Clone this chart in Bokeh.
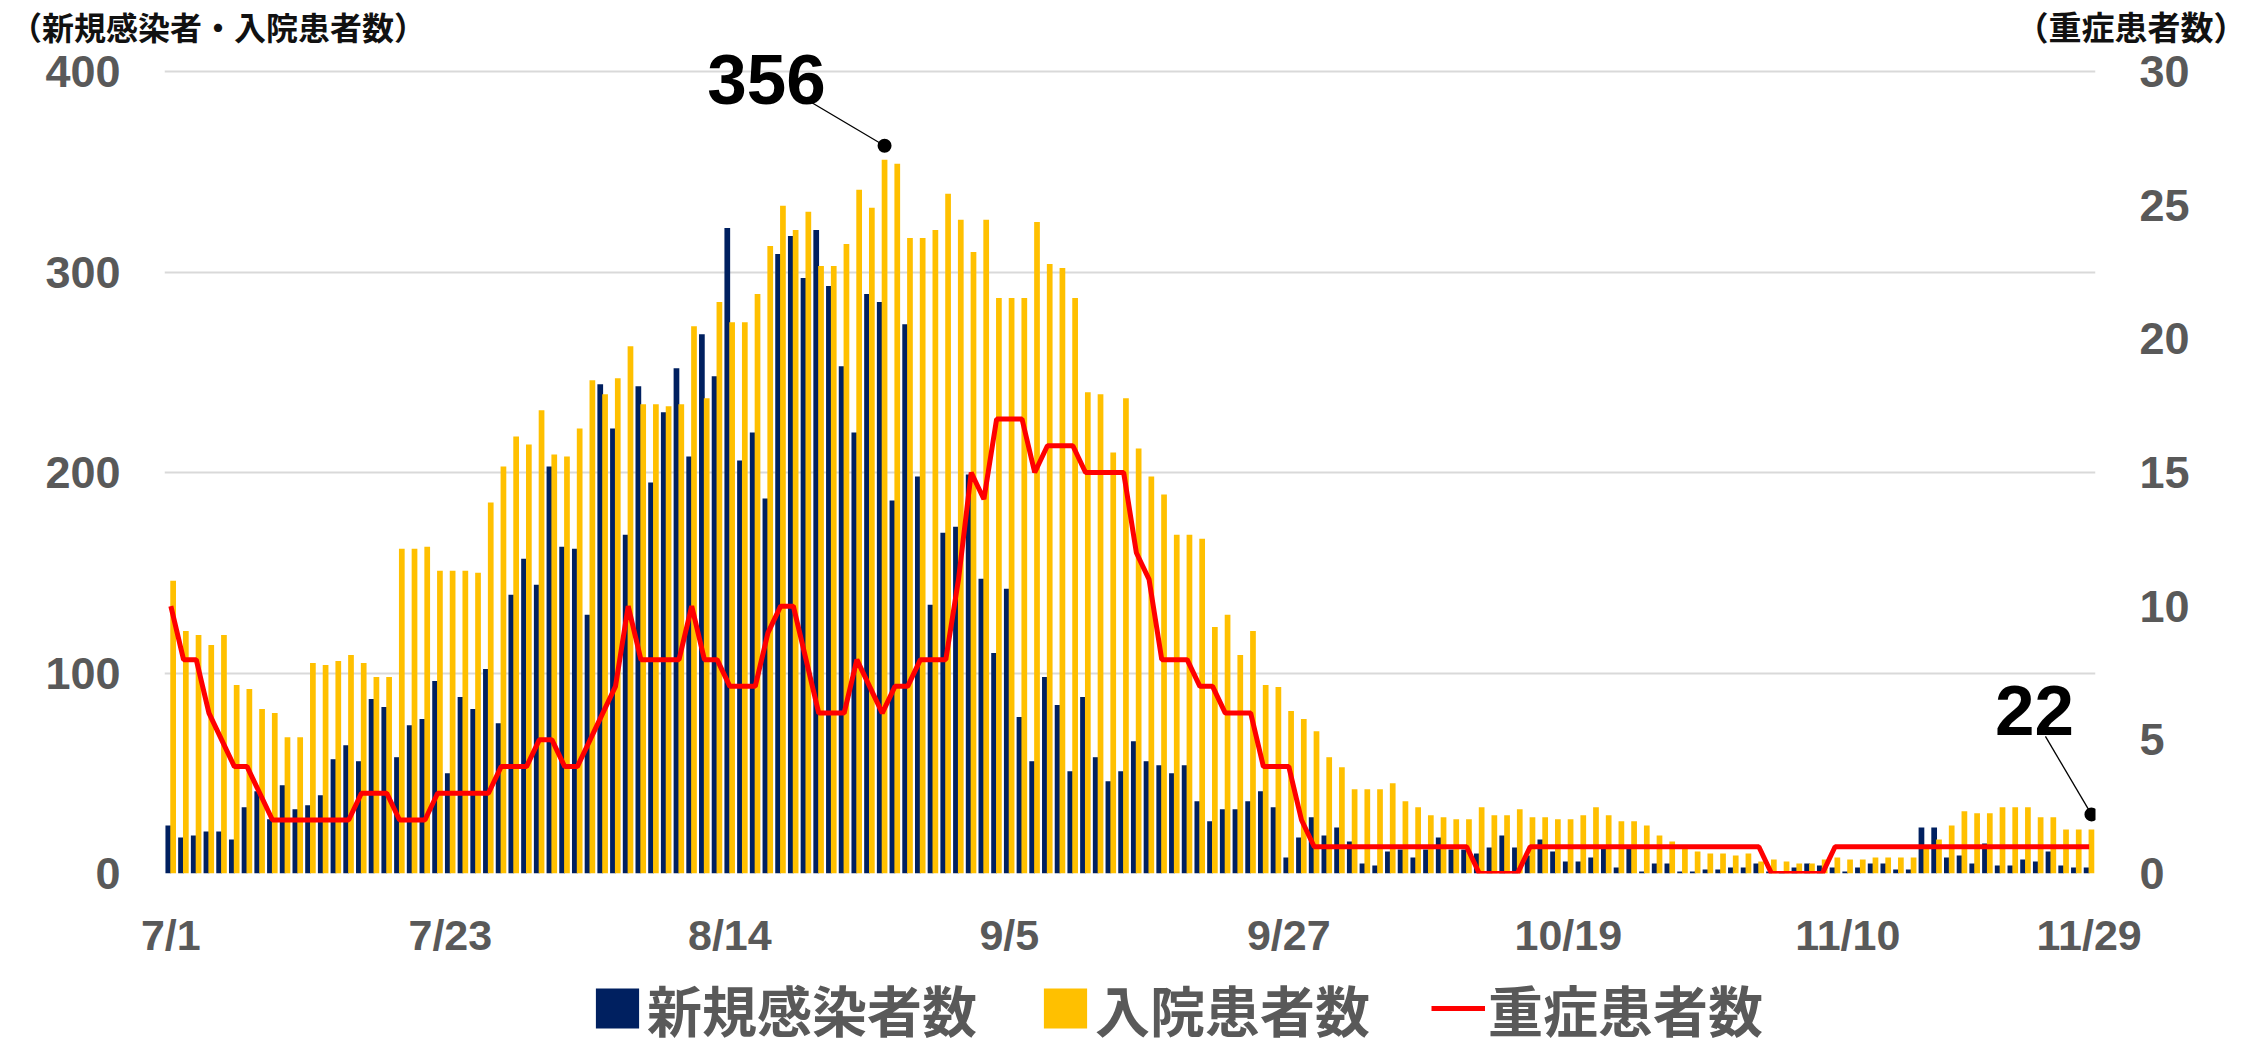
import numpy as np
import pandas as pd
from bokeh.plotting import figure
from bokeh.models import Range1d, LinearAxis, FixedTicker, Label, Legend, LegendItem, Div, Spacer
from bokeh.layouts import column, row
from bokeh.embed import file_html
from bokeh.resources import INLINE

# ---------------- data ----------------
dates = [f"{d.month}/{d.day}" for d in pd.date_range("2021-07-01", "2021-11-29")]

new_cases = [24, 18, 19, 21, 21, 17, 33, 41, 27, 44, 32, 34, 39, 57, 64, 56, 87, 83, 58, 74,
             77, 96, 50, 88, 82, 102, 75, 139, 157, 144, 203, 163, 162, 129, 244, 222, 169, 243, 195, 230,
             252, 208, 269, 248, 322, 206, 220, 187, 309, 318, 297, 321, 293, 253, 220, 289, 285, 186, 274, 198,
             134, 170, 173, 199, 147, 110, 142, 78, 56, 98, 84, 51, 88, 58, 46, 51, 66, 56, 54, 50,
             54, 36, 26, 32, 32, 36, 41, 33, 8, 18, 28, 19, 23, 16, 5, 4, 11, 12, 8, 12,
             18, 12, 12, 10, 13, 19, 13, 9, 17, 11, 6, 6, 8, 13, 3, 13, 1, 5, 5, 1,
             1, 2, 2, 3, 3, 5, 1, 1, 3, 5, 4, 3, 1, 3, 5, 5, 2, 2, 23, 23,
             8, 9, 5, 15, 4, 4, 7, 6, 11, 4, 3, 3]

hospitalized = [146, 121, 119, 114, 119, 94, 92, 82, 80, 68, 68, 105, 104, 106, 109, 105, 98, 98, 162, 162,
                163, 151, 151, 151, 150, 185, 203, 218, 214, 231, 209, 208, 222, 246, 239, 247, 263, 234, 234, 233,
                234, 273, 237, 285, 275, 275, 289, 313, 333, 321, 330, 303, 303, 314, 341, 332, 356, 354, 317, 317,
                321, 339, 326, 310, 326, 287, 287, 287, 325, 304, 302, 287, 240, 239, 210, 237, 212, 198, 189, 169,
                169, 167, 123, 129, 109, 121, 94, 93, 81, 77, 71, 58, 53, 42, 42, 42, 45, 36, 33, 29,
                28, 27, 27, 33, 29, 29, 32, 28, 28, 27, 27, 29, 33, 29, 26, 26, 24, 19, 16, 13,
                11, 10, 10, 9, 10, 6, 7, 6, 5, 5, 7, 8, 7, 7, 8, 8, 8, 8, 13, 17,
                24, 31, 30, 30, 33, 33, 33, 28, 28, 22, 22, 22]

severe = [10, 8, 8, 6, 5, 4, 4, 3, 2, 2, 2, 2, 2, 2, 2, 3, 3, 3, 2, 2,
          2, 3, 3, 3, 3, 3, 4, 4, 4, 5, 5, 4, 4, 5, 6, 7, 10, 8, 8, 8,
          8, 10, 8, 8, 7, 7, 7, 9, 10, 10, 8, 6, 6, 6, 8, 7, 6, 7, 7, 8,
          8, 8, 11, 15, 14, 17, 17, 17, 15, 16, 16, 16, 15, 15, 15, 15, 12, 11, 8, 8,
          8, 7, 7, 6, 6, 6, 4, 4, 4, 2, 1, 1, 1, 1, 1, 1, 1, 1, 1, 1,
          1, 1, 1, 0, 0, 0, 0, 1, 1, 1, 1, 1, 1, 1, 1, 1, 1, 1, 1, 1,
          1, 1, 1, 1, 1, 1, 0, 0, 0, 0, 0, 1, 1, 1, 1, 1, 1, 1, 1, 1,
          1, 1, 1, 1, 1, 1, 1, 1, 1, 1, 1, 1]

tick_labels = ["7/1", "7/23", "8/14", "9/5", "9/27", "10/19", "11/10", "11/29"]
left_ticks = [0, 100, 200, 300, 400]
right_ticks = [0, 5, 10, 15, 20, 25, 30]
series_names = ["新規感染者数", "入院患者数", "重症患者数"]
left_title = "（新規感染者・入院患者数）"
right_title = "（重症患者数）"

NAVY, YELLOW, RED = "#002060", "#FFC000", "#FF0000"
FONT = "Noto Sans CJK JP"
NUM_FONT = "Liberation Sans"
GRAY = "#595959"

# ---------------- layout (page has an 8px body margin) ----------------
W = 2230
HEAD_H = 44                 # header row with the two axis titles
OVERLAP = 36                # main chart (transparent) slides up under the header
MAIN_H = 955
LEG_H = 1048 - HEAD_H - (MAIN_H - OVERLAP)
ML, MR, MT, MB = 164, 135, 0, 90
FW, FH = W - ML - MR, MAIN_H - MT - MB
n = len(dates)
ppd = FW / n                # pixels per day
ppu = 802 / 400.0           # pixels per left-axis unit
y_top = FH / ppu            # frame reaches above 400 so the callout is not clipped
sev_top = 30 * y_top / 400

p = figure(width=W, height=MAIN_H, x_range=Range1d(-0.5, n - 0.5), y_range=Range1d(0, y_top),
           output_backend="svg", toolbar_location=None, margin=(-OVERLAP, 0, 0, 0),
           min_border_left=ML, min_border_right=MR, min_border_top=MT, min_border_bottom=MB)
p.extra_y_ranges = {"sev": Range1d(0, sev_top)}
p.outline_line_color = None
p.background_fill_alpha = 0
p.border_fill_alpha = 0

x = np.arange(n)
tick_pos = [dates.index(t) for t in tick_labels]

# axes
p.xaxis.ticker = FixedTicker(ticks=tick_pos)
p.xaxis.major_label_overrides = {pos: lab for pos, lab in zip(tick_pos, tick_labels)}
p.yaxis.ticker = FixedTicker(ticks=left_ticks)
right_axis = LinearAxis(y_range_name="sev", ticker=FixedTicker(ticks=right_ticks))
p.add_layout(right_axis, "right")

for ax in p.xaxis + p.yaxis:
    ax.axis_line_color = None
    ax.major_tick_line_color = None
    ax.minor_tick_line_color = None
    ax.major_label_text_color = GRAY
    ax.major_label_text_font = NUM_FONT
    ax.major_label_text_font_style = "bold"
p.xaxis.major_label_text_font_size = "43px"
p.xaxis.major_label_standoff = 31
for ax in p.yaxis:
    ax.major_label_text_font_size = "45px"
    ax.major_label_standoff = 38

p.xgrid.visible = False
p.ygrid.ticker = FixedTicker(ticks=left_ticks)
p.ygrid.grid_line_color = "#d9d9d9"
p.ygrid.grid_line_width = 2

# bars and line
p.vbar(x=x - 0.2, top=new_cases, width=0.45, fill_color=NAVY, line_color=None)
p.vbar(x=x + 0.18, top=hospitalized, width=0.45, fill_color=YELLOW, line_color=None)
p.line(x, severe, y_range_name="sev", line_color=RED, line_width=5)

# annotations: peak and last value (offsets in screen pixels converted to data units)
def callout(idx, dxt, dyt, dxl, dyl, dot_up):
    xp = idx + 0.18
    yp = hospitalized[idx]
    ydot = yp + dot_up / ppu
    p.segment(x0=[xp + dxl / ppd], y0=[yp + dyl / ppu], x1=[xp], y1=[ydot],
              line_color="black", line_width=1.3)
    p.scatter(x=[xp], y=[ydot], size=14, fill_color="black", line_color=None)
    p.add_layout(Label(x=xp + dxt / ppd, y=yp + dyt / ppu, text=str(yp),
                       text_align="center", text_baseline="middle",
                       text_font=NUM_FONT, text_font_style="bold", text_font_size="71px",
                       text_color="black"))

pk = int(np.argmax(hospitalized))
callout(pk, -118, 80, -76, 59, 14)
callout(n - 1, -57, 119, -46, 93, 15)

# ---------------- legend strip ----------------
# the same series, hidden, only provide the legend swatches of this strip
pl = figure(width=W, height=LEG_H, x_range=Range1d(-0.5, n - 0.5), y_range=Range1d(0, 400),
            output_backend="svg", toolbar_location=None,
            x_axis_location=None, y_axis_location=None, min_border=0)
pl.extra_y_ranges = {"sev": Range1d(0, 30)}
pl.outline_line_color = None
pl.border_fill_alpha = 0
pl.background_fill_alpha = 0
pl.grid.visible = False
l_new = pl.vbar(x=x - 0.2, top=new_cases, width=0.45, fill_color=NAVY, line_color=None, visible=False)
l_hosp = pl.vbar(x=x + 0.18, top=hospitalized, width=0.45, fill_color=YELLOW, line_color=None, visible=False)
l_sev = pl.line(x, severe, y_range_name="sev", line_color=RED, line_width=5, visible=False)
legend = Legend(items=[LegendItem(label=series_names[0], renderers=[l_new]),
                       LegendItem(label=series_names[1], renderers=[l_hosp]),
                       LegendItem(label=series_names[2], renderers=[l_sev])],
                orientation="horizontal", location=(426, 0),
                glyph_width=54, glyph_height=50, label_standoff=3, spacing=61,
                padding=0, margin=0, border_line_color=None, background_fill_alpha=0,
                inactive_fill_alpha=0,
                label_text_font=FONT, label_text_font_style="bold",
                label_text_font_size="55px", label_text_line_height=1.0,
                label_text_color=GRAY)
pl.add_layout(legend, "center")

# ---------------- axis titles above the plot ----------------
title_style = {"font-family": FONT, "font-weight": "bold", "font-size": "32px",
               "color": "#111111", "line-height": "52px", "white-space": "nowrap"}
div_l = Div(text=f'<span style="display:inline-block;margin-left:10px">{left_title}</span>',
            width=1200, height=HEAD_H, margin=0, styles=dict(title_style))
div_r = Div(text=right_title, width=400, height=HEAD_H, margin=0,
            styles=dict(title_style, **{"font-size": "33px", "text-align": "right",
                                        "font-feature-settings": '"halt"'}))
header = row(div_l, Spacer(width=W - 1600, height=HEAD_H, margin=0), div_r, spacing=0, margin=0)
layout = column(header, p, pl, spacing=0, margin=0)

open("out.html", "w").write(file_html(layout, INLINE))
